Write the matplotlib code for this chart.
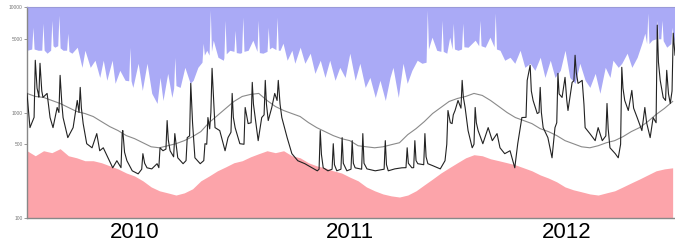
import numpy as np
import pandas as pd
import matplotlib
matplotlib.use('Agg')
import matplotlib.pyplot as plt

START = pd.Timestamp('2010-01-01')

# upper envelope (blue area above it): (day offset, value)
upper = [(0, 3890), (8, 4000), (10, 6450), (12, 4000), (19, 3890), (25, 3900), (27, 7040), (29, 3900),
         (34, 3650), (40, 3900), (42, 7510), (44, 4300), (47, 4160), (52, 4300), (54, 8390), (56, 4100),
         (61, 3890), (67, 3900), (69, 5650), (71, 3800), (76, 3650), (85, 4160), (93, 2680), (98, 3890),
         (107, 2680), (115, 3130), (123, 2150), (129, 3130), (135, 2020), (144, 3130), (149, 1890),
         (157, 2510), (166, 2020), (172, 2000), (174, 4160), (176, 2000), (179, 1730), (188, 2930),
         (195, 1620), (203, 2930), (211, 1520), (220, 1220), (225, 2150), (230, 1300), (238, 2350),
         (245, 1390), (248, 1700), (250, 3340), (252, 1800), (259, 1730), (267, 2680), (276, 1890),
         (281, 2020), (289, 2680), (296, 3000), (298, 4540), (300, 3500), (304, 3890), (308, 3500),
         (310, 9360), (312, 3800), (315, 4850), (323, 3340), (332, 3130), (333, 3300), (335, 7510),
         (337, 3600), (343, 3890), (350, 3800), (352, 6040), (354, 3700), (360, 3650), (363, 3700),
         (365, 8030), (367, 3800), (374, 3890), (382, 4850), (389, 3800), (391, 7510), (393, 3700),
         (399, 3650), (406, 3800), (408, 6450), (410, 4000), (414, 4160), (421, 3950), (423, 8030),
         (425, 3900), (428, 3890), (433, 4540), (440, 3130), (448, 3890), (453, 2930), (462, 4160),
         (470, 2930), (479, 3650), (487, 2350), (496, 3130), (504, 2150), (512, 3130), (521, 2020),
         (529, 2680), (538, 2150), (546, 3650), (555, 2020), (563, 2930), (572, 1730), (580, 2150),
         (589, 1390), (597, 2020), (606, 1300), (614, 2150), (619, 2680), (628, 1390), (636, 2930),
         (643, 1890), (651, 2510), (660, 3130), (668, 2930), (675, 3000), (677, 9360), (679, 4000),
         (685, 5180), (693, 3890), (700, 3800), (702, 7510), (704, 3800), (710, 3650), (715, 5180),
         (719, 4000), (721, 7040), (723, 4000), (729, 3890), (735, 4000), (737, 7040), (739, 4200),
         (746, 4160), (758, 4850), (764, 4300), (766, 7510), (768, 4300), (775, 4160), (783, 5180),
         (790, 4200), (792, 8770), (794, 4000), (800, 3890), (808, 3130), (817, 3340), (825, 2930),
         (834, 3890), (842, 2680), (851, 2930), (859, 2510), (868, 3340), (876, 2150), (885, 3130),
         (893, 2150), (902, 2510), (910, 3890), (918, 2150), (927, 1890), (935, 2930), (944, 2020),
         (952, 1730), (961, 2350), (969, 1520), (978, 2680), (986, 2150), (991, 3130), (1000, 2680),
         (1006, 2930), (1015, 3650), (1023, 2680), (1032, 3340), (1040, 4540), (1045, 5650), (1048, 4500),
         (1050, 8770), (1052, 4500), (1057, 4850), (1064, 5000), (1066, 7510), (1068, 5000), (1072, 5000),
         (1074, 7510), (1076, 4800), (1082, 4160), (1089, 4500), (1091, 6450), (1093, 4600), (1096, 5180)]

# lower envelope (pink area below it), every 14 days
lower_vals = [434, 389, 434, 416, 454, 389, 372, 349, 349, 334,
              312, 292, 267, 250, 225, 197, 181, 173, 165, 173,
              189, 225, 250, 280, 305, 334, 349, 380, 407, 434,
              416, 434, 389, 372, 334, 312, 299, 280, 267, 244,
              225, 197, 181, 169, 162, 158, 165, 181, 206, 234,
              267, 299, 334, 372, 398, 389, 364, 349, 334, 319,
              299, 280, 256, 239, 220, 197, 185, 177, 169, 165,
              173, 181, 197, 215, 234, 256, 280, 292, 299]

# smoothed level (grey line), every 14 days
smooth_vals = [1517, 1420, 1390, 1301, 1218, 1116, 1022, 978, 916, 820,
               735, 674, 604, 565, 517, 473, 463, 484, 506, 541,
               590, 659, 803, 936, 1092, 1273, 1420, 1484, 1517, 1301,
               1141, 1045, 978, 916, 803, 719, 659, 604, 565, 541,
               484, 473, 463, 473, 495, 517, 617, 703, 820, 978,
               1116, 1273, 1359, 1420, 1517, 1452, 1301, 1141, 1000, 896,
               839, 785, 703, 659, 604, 541, 506, 473, 463, 484,
               517, 541, 590, 659, 719, 820, 957, 1092, 1273]

# observed series (black line): (day offset, value)
observed = [(0, 1517), (5, 719), (12, 900), (14, 3128), (17, 1700), (19, 1517), (20, 1400), (22, 2929),
            (25, 1600), (27, 1390), (34, 1517), (39, 896), (44, 719), (51, 1116), (54, 1000), (56, 2251),
            (59, 1200), (61, 896), (69, 578), (78, 719), (85, 1301), (88, 1000), (90, 1730), (92, 1100),
            (95, 785), (101, 506), (110, 463), (118, 631), (123, 434), (129, 463), (137, 372), (145, 299),
            (152, 349), (159, 300), (161, 631), (162, 674), (165, 420), (169, 349), (178, 280), (188, 262),
            (194, 290), (196, 407), (199, 330), (203, 299), (211, 292), (220, 327), (223, 300), (225, 463),
            (230, 434), (235, 450), (237, 839), (239, 550), (242, 434), (248, 380), (250, 631), (255, 372),
            (264, 327), (269, 350), (271, 578), (275, 600), (277, 1889), (280, 800), (284, 372), (293, 327),
            (299, 350), (301, 506), (304, 500), (306, 896), (309, 700), (311, 1000), (313, 2624), (316, 1200),
            (318, 719), (326, 674), (335, 434), (340, 578), (345, 650), (347, 1517), (349, 900), (352, 719),
            (360, 506), (367, 500), (369, 1116), (374, 785), (379, 800), (381, 1931), (383, 1200), (386, 896),
            (391, 541), (397, 896), (401, 950), (403, 2017), (405, 1200), (408, 839), (414, 1116), (419, 1517),
            (423, 1300), (425, 2017), (428, 1200), (431, 896), (440, 578), (448, 407), (458, 349), (470, 327),
            (482, 299), (491, 280), (494, 290), (496, 674), (498, 400), (501, 299), (509, 280), (516, 290),
            (518, 506), (520, 320), (524, 280), (531, 290), (533, 578), (535, 330), (541, 280), (548, 290),
            (550, 541), (552, 330), (555, 299), (566, 290), (568, 631), (570, 330), (575, 292), (589, 280),
            (604, 290), (606, 541), (608, 320), (611, 280), (622, 292), (634, 299), (641, 300), (643, 463),
            (645, 330), (651, 299), (654, 300), (656, 541), (658, 350), (661, 327), (671, 320), (673, 631),
            (675, 380), (678, 327), (687, 312), (699, 292), (707, 349), (710, 500), (712, 1045), (716, 800),
            (719, 785), (721, 950), (724, 1045), (729, 1301), (734, 1100), (736, 2017), (738, 1400),
            (741, 1116), (746, 674), (753, 463), (756, 500), (758, 1116), (760, 800), (763, 674), (771, 506),
            (780, 719), (787, 541), (795, 631), (800, 463), (808, 407), (817, 434), (825, 299), (830, 506),
            (837, 896), (844, 900), (846, 2017), (851, 2803), (853, 1600), (856, 1301), (863, 978),
            (866, 1000), (868, 1730), (870, 1000), (873, 719), (881, 578), (888, 372), (893, 719), (896, 800),
            (898, 2351), (900, 1500), (905, 1390), (910, 2154), (913, 1300), (915, 1045), (922, 1931),
            (925, 2000), (927, 3490), (929, 2400), (932, 1889), (939, 2017), (942, 1200), (944, 719),
            (952, 631), (961, 541), (966, 719), (973, 541), (979, 600), (981, 1218), (983, 700), (986, 463),
            (995, 407), (1000, 372), (1004, 500), (1006, 2683), (1008, 1700), (1011, 1301), (1017, 1045),
            (1023, 1620), (1026, 1100), (1032, 896), (1040, 674), (1045, 1116), (1048, 800), (1054, 578),
            (1059, 896), (1064, 800), (1066, 6740), (1068, 3000), (1071, 2017), (1076, 1390), (1080, 1300),
            (1082, 2512), (1085, 1500), (1088, 1218), (1091, 1600), (1093, 5655), (1096, 3500)]

year_labels = ['2010', '2011', '2012']


def to_dates(days):
    return START + pd.to_timedelta(np.asarray(days), unit='D')


def plot_chart():
    plt.rcParams['font.family'] = ['Liberation Sans', 'DejaVu Sans']
    fig = plt.figure(figsize=(6.75, 2.43), dpi=100)
    ax = fig.add_axes([0.04, 0.103, 0.96, 0.868])

    top = 10000
    bottom = 100
    ud, uv = zip(*upper)
    ax.fill_between(to_dates(ud), uv, top, color='#aaaaf6', lw=0, zorder=1)

    grid = pd.date_range(START, periods=len(lower_vals), freq='14D')
    ax.fill_between(grid, bottom, lower_vals, color='#fca4aa', lw=0, zorder=1)

    sgrid = pd.date_range(START, periods=len(smooth_vals), freq='14D')
    ax.plot(sgrid, smooth_vals, color='#8a8a8a', lw=0.8, zorder=2)

    od, ov = zip(*observed)
    ax.plot(to_dates(od), ov, color='#222222', lw=0.8, zorder=3)

    ax.set_yscale('log')
    ax.set_ylim(bottom, top)
    ax.set_xlim(START, pd.Timestamp('2013-01-01'))
    ax.set_yticks([100, 500, 1000, 5000, 10000])
    ax.set_yticklabels(['100', '500', '1000', '5000', '10000'])
    ax.yaxis.set_minor_locator(matplotlib.ticker.NullLocator())
    ax.tick_params(axis='y', labelsize=3.5, labelcolor='#777777', length=2,
                   width=0.6, color='#888888', pad=1)

    ax.set_xticks([pd.Timestamp(f'{y}-07-02') for y in year_labels])
    ax.set_xticklabels(year_labels)
    ax.tick_params(axis='x', labelsize=16, length=0, pad=3)

    for s in ['left', 'bottom']:
        ax.spines[s].set_color('#888888')
        ax.spines[s].set_linewidth(1.0)
    ax.spines['top'].set_color('#9a9ad8')
    ax.spines['right'].set_visible(False)

    fig.savefig('out.png', dpi=100)


if __name__ == '__main__':
    plot_chart()
